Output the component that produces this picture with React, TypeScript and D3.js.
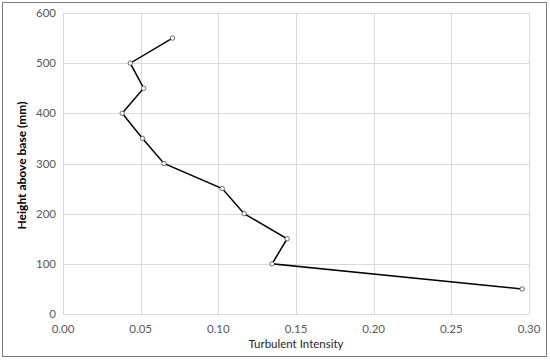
import * as d3 from "d3";
import React from "react";

// turbulent intensity profile
const heights = [550, 500, 450, 400, 350, 300, 250, 200, 150, 100, 50];
const intensity = [0.0705, 0.0433, 0.0519, 0.0381, 0.0512, 0.065, 0.1025, 0.1166, 0.1443, 0.1346, 0.2956];
const xTicks = [0, 0.05, 0.1, 0.15, 0.2, 0.25, 0.3];
const yTicks = [0, 100, 200, 300, 400, 500, 600];

const FONT = "Lato, 'Open Sans', sans-serif";

const App: React.FC = (): React.ReactElement => {
  const ref = React.useRef<SVGSVGElement>(null);

  React.useEffect(() => {
    const width = 550;
    const height = 362;
    const plot = { left: 63, right: 529, top: 13, bottom: 314 };

    const svg = d3.select(ref.current);
    svg.selectAll("*").remove();

    svg
      .append("rect")
      .attr("x", 2.5)
      .attr("y", 2.5)
      .attr("width", 544)
      .attr("height", 354)
      .attr("fill", "#fff")
      .attr("stroke", "#7f7f7f")
      .attr("stroke-width", 1);

    const x = d3.scaleLinear().domain([0, 0.3]).range([plot.left, plot.right]);
    const y = d3.scaleLinear().domain([0, 600]).range([plot.bottom, plot.top]);

    const grid = svg.append("g");
    grid
      .selectAll("line.v")
      .data(xTicks)
      .enter()
      .append("line")
      .attr("x1", (d) => Math.round(x(d)) + 0.5)
      .attr("x2", (d) => Math.round(x(d)) + 0.5)
      .attr("y1", plot.top)
      .attr("y2", plot.bottom)
      .attr("stroke", "#d9d9d9");
    grid
      .selectAll("line.h")
      .data(yTicks)
      .enter()
      .append("line")
      .attr("y1", (d) => Math.round(y(d)) + 0.5)
      .attr("y2", (d) => Math.round(y(d)) + 0.5)
      .attr("x1", plot.left)
      .attr("x2", plot.right)
      .attr("stroke", "#d9d9d9");

    svg
      .append("g")
      .selectAll("text")
      .data(xTicks)
      .enter()
      .append("text")
      .attr("x", (d) => x(d))
      .attr("y", 333)
      .attr("text-anchor", "middle")
      .attr("font-family", FONT)
      .attr("font-size", 11.5)
      .attr("fill", "#595959")
      .text((d) => d3.format(".2f")(d));

    svg
      .append("g")
      .selectAll("text")
      .data(yTicks)
      .enter()
      .append("text")
      .attr("x", 56)
      .attr("y", (d) => y(d) + 4)
      .attr("text-anchor", "end")
      .attr("font-family", FONT)
      .attr("font-size", 11.5)
      .attr("fill", "#595959")
      .text((d) => d);

    svg
      .append("text")
      .attr("x", (plot.left + plot.right) / 2)
      .attr("y", 348)
      .attr("text-anchor", "middle")
      .attr("font-family", FONT)
      .attr("font-size", 11.5)
      .attr("fill", "#262626")
      .text("Turbulent  Intensity");

    svg
      .append("text")
      .attr("transform", `translate(26, ${(plot.top + plot.bottom) / 2 + 2}) rotate(-90)`)
      .attr("text-anchor", "middle")
      .attr("font-family", FONT)
      .attr("font-size", 12)
      .attr("font-weight", "bold")
      .attr("fill", "#000")
      .text("Height above base (mm)");

    const data = heights.map((h, i) => ({ h, v: intensity[i] }));

    const line = d3
      .line<{ h: number; v: number }>()
      .x((d) => x(d.v))
      .y((d) => y(d.h));

    svg
      .append("path")
      .datum(data)
      .attr("d", line)
      .attr("fill", "none")
      .attr("stroke", "#000")
      .attr("stroke-width", 1.5);

    svg
      .append("g")
      .selectAll("circle")
      .data(data)
      .enter()
      .append("circle")
      .attr("cx", (d) => x(d.v))
      .attr("cy", (d) => y(d.h))
      .attr("r", 2.2)
      .attr("fill", "#fff")
      .attr("stroke", "#595959")
      .attr("stroke-width", 0.9);

    svg.attr("width", width).attr("height", height);
  }, []);

  return (
    <svg
      ref={ref}
      width={550}
      height={362}
      style={{ position: "absolute", left: 0, top: 0, display: "block" }}
    />
  );
};

export default App;
